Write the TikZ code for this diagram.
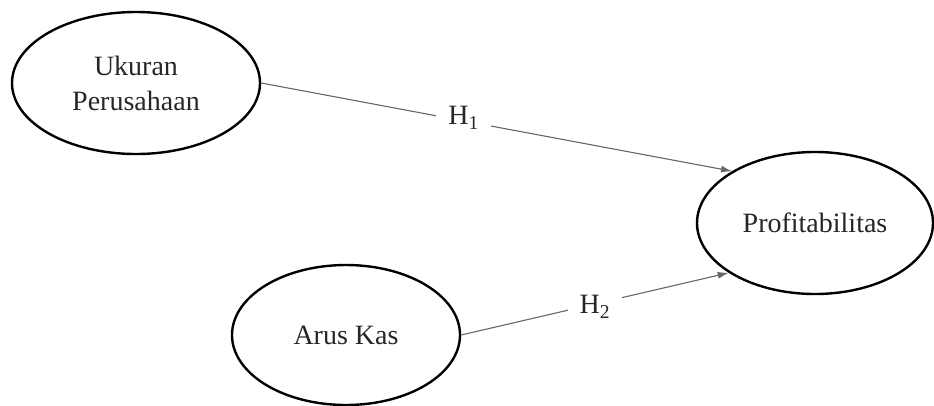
\documentclass[tikz,border=0pt]{standalone}
\usepackage{fontspec}
\setmainfont{Liberation Serif}
\usetikzlibrary{shapes.geometric,arrows.meta}
\begin{document}
\begin{tikzpicture}[x=1pt,y=-1pt,
  var/.style={ellipse,draw=black,line width=2.4pt,inner sep=0pt,
    font=\fontsize{28}{35}\selectfont,text=black!85,align=center},
  link/.style={draw=black!60,line width=1.1pt,-{Latex[length=11pt,width=7pt]}},
  hyp/.style={fill=white,inner xsep=12pt,inner ysep=3pt,font=\fontsize{28}{35}\selectfont,text=black!85}]
\useasboundingbox (0,0) rectangle (934,405);
\node[var,minimum width=248pt,minimum height=142pt] (u) at (136,83) {Ukuran\\Perusahaan};
\node[var,minimum width=236pt,minimum height=142pt] (p) at (815,223) {Profitabilitas};
\node[var,minimum width=228pt,minimum height=140pt] (a) at (346,335) {Arus Kas};
\draw[link] (u.east) -- node[hyp,pos=0.43,yshift=3pt] (h1) {H\textsubscript{1}} (p.148.6);
\draw[link] (a.east) -- node[hyp,pos=0.5,yshift=-3pt] (h2) {H\textsubscript{2}} (p.210);
\end{tikzpicture}
\end{document}
